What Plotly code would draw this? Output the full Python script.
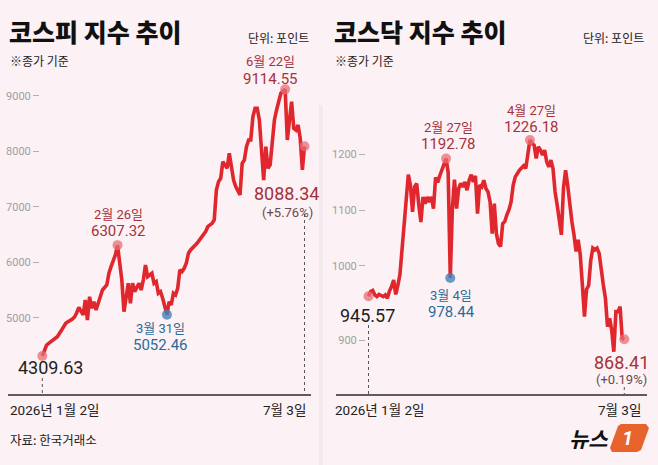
import plotly.graph_objects as go

W, H = 658, 465

# --- data (trading-day index, close) ---
kospi_day = [0, 2, 4, 7, 9, 11, 14, 15, 16, 17, 19, 20, 21, 22, 23, 24, 25, 27, 28, 30,
             31, 32, 34, 35, 37, 38, 40, 41, 42, 43, 45, 46, 47, 48, 49, 51, 52, 53, 54, 55,
             56, 58, 59, 60, 61, 62, 63, 64, 65, 66, 67, 68, 69, 72, 74, 76, 77, 79, 80, 81,
             82, 83, 84, 86, 87, 88, 89, 90, 92, 93, 94, 95, 96, 97, 98, 99, 100, 101, 102, 103,
             104, 105, 106, 107, 108, 109, 110, 111, 113, 114, 115, 116, 117, 118, 119, 120, 121, 122]
kospi = [4309.63, 4508, 4568, 4658, 4778, 4904, 4977, 5013, 5090, 5187, 5049, 5319, 4959, 5378,
         5169, 5288, 5139, 5409, 5499, 5589, 5800, 5919, 6130, 6307.32, 5679, 5108, 5620, 5259,
         5620, 5469, 5620, 5499, 5679, 5950, 5739, 5800, 5620, 5649, 5440, 5469, 5350, 5052.46,
         5288, 5229, 5440, 5409, 5530, 5860, 5829, 5890, 5980, 6160, 6220, 6341, 6460, 6550,
         6640, 6701, 6761, 7301, 7451, 7512, 7811, 7692, 7962, 7662, 7481, 7361, 7211, 7782,
         7842, 8081, 8202, 8202, 8622, 8773, 8773, 8563, 8081, 7481, 8081, 7692, 7752, 8202,
         8563, 8743, 8923, 9043, 9114.55, 8202, 8563, 8892, 8413, 8382, 8473, 8233, 7662, 8088.34]

kosdaq = [945.57, 954, 956, 948, 945, 949, 947, 945, 948, 942, 955, 963, 975, 949, 965, 985,
          1030, 1075, 1125, 1164, 1145, 1097, 1142, 1148, 1109, 1079, 1124, 1112, 1124, 1115,
          1124, 1103, 1159, 1150, 1162, 1174, 1186, 1192.78, 1168, 978.44, 1103, 1155, 1103,
          1139, 1148, 1142, 1151, 1136, 1154, 1164, 1151, 1162, 1094, 1145, 1142, 1154, 1139,
          1133, 1115, 1058, 1112, 1058, 1040, 1035, 1076, 1080, 1092, 1101, 1115, 1145, 1160,
          1167, 1172, 1176, 1180, 1175, 1199, 1226.18, 1220, 1217, 1193, 1214, 1208, 1199,
          1208, 1187, 1178, 1190, 1175, 1133, 1109, 1086, 1056, 1140, 1172, 1145, 1109, 1080,
          1056, 1026, 1047, 1020, 966, 909, 958, 965, 1010, 1032, 1029, 1032, 1023, 990, 966,
          942, 891, 906, 885, 846, 918, 918, 927, 870, 868.41]
kosdaq_day = list(range(len(kosdaq)))

kospi_ticks = [5000, 6000, 7000, 8000, 9000]
# the source draws its "900" label lower than the 900 level; keep it where it sits
kosdaq_tickvals = [867, 1000, 1100, 1200]
kosdaq_ticktext = ["900", "1000", "1100", "1200"]

# highlighted points: (day, value, date label, value label, kind)
kospi_marks = [(35, 6307.32, "2월 26일", "6307.32", "hi"),
               (58, 5052.46, "3월 31일", "5052.46", "lo"),
               (113, 9114.55, "6월 22일", "9114.55", "hi")]
kosdaq_marks = [(37, 1192.78, "2월 27일", "1192.78", "hi"),
                (39, 978.44, "3월 4일", "978.44", "lo"),
                (77, 1226.18, "4월 27일", "1226.18", "hi")]

BG = "#fcf1f4"
LINE = "#e0272e"
RED_TXT = "#a5323b"
BLUE_TXT = "#2b6c97"
HI_DOT = "rgba(232,110,118,0.75)"
LO_DOT = "rgba(70,130,185,0.8)"
FONT = "Roboto, 'Noto Sans CJK KR', sans-serif"
KFONT = "'Noto Sans CJK KR', sans-serif"


def px(x):
    return x / W


def py(y):
    return 1 - y / H


fig = go.Figure()

panels = [
    dict(n="", day=kospi_day, val=kospi, marks=kospi_marks),
    dict(n="2", day=kosdaq_day, val=kosdaq, marks=kosdaq_marks),
]

for p in panels:
    xa, ya = "x" + p["n"], "y" + p["n"]
    fig.add_trace(go.Scatter(x=p["day"], y=p["val"], mode="lines", xaxis=xa, yaxis=ya,
                             line=dict(color=LINE, width=3.6), hoverinfo="skip"))
    # start / end dots
    fig.add_trace(go.Scatter(x=[p["day"][0], p["day"][-1]], y=[p["val"][0], p["val"][-1]],
                             mode="markers", xaxis=xa, yaxis=ya, cliponaxis=False,
                             marker=dict(size=10, color=HI_DOT)))
    for d, v, _, _, kind in p["marks"]:
        fig.add_trace(go.Scatter(x=[d], y=[v], mode="markers", xaxis=xa, yaxis=ya,
                                 cliponaxis=False,
                                 marker=dict(size=10, color=HI_DOT if kind == "hi" else LO_DOT)))

ydom = [py(395), py(80)]
axis_common = dict(showgrid=False, zeroline=False, showline=False)
fig.update_layout(
    width=W, height=H, margin=dict(l=0, r=0, t=0, b=0),
    paper_bgcolor=BG, plot_bgcolor=BG, showlegend=False,
    font=dict(family=FONT, color="#222"),
    xaxis=dict(domain=[px(40), px(307)], range=[-1.07, 123.16], showticklabels=False,
               **axis_common),
    yaxis=dict(domain=ydom, range=[3607, 9283], tickvals=kospi_ticks,
               ticks="outside", ticklen=6, tickcolor="#b0b0b0", tickwidth=1,
               tickfont=dict(size=11, color="#a0a0a0"), **axis_common),
    xaxis2=dict(domain=[px(366), px(627)], range=[-1.19, 123.29], showticklabels=False,
                anchor="y2", **axis_common),
    yaxis2=dict(domain=ydom, range=[768.4, 1333.9], tickvals=kosdaq_tickvals,
                ticktext=kosdaq_ticktext, anchor="x2",
                ticks="outside", ticklen=6, tickcolor="#b0b0b0", tickwidth=1,
                tickfont=dict(size=11, color="#a0a0a0"), **axis_common),
)

ann = []


def label(x, y, text, size, color, anchor="center", family=FONT, weight=None):
    f = dict(size=size, color=color, family=family)
    if weight:
        f["weight"] = weight
    ann.append(dict(x=px(x), y=py(y), xref="paper", yref="paper", text=text,
                    showarrow=False, xanchor=anchor, yanchor="middle", font=f))


# headers
for x0, x1, title in [(8, 311, "코스피 지수 추이"), (333, 646, "코스닥 지수 추이")]:
    label(x0 - 1, 31, title, 25, "#111", "left", KFONT, 900)
    label(x1, 37, "단위: 포인트", 12, "#222", "right", KFONT)
    label(x0, 60, "※종가 기준", 12, "#222", "left", KFONT)
    label(x0, 410, "2026년 1월 2일", 13.5, "#222", "left")
    label(x1 - 3, 410, "7월 3일", 13.5, "#222", "right")

label(8, 439, "자료: 한국거래소", 12.5, "#222", "left", KFONT)

# highlighted point labels (pixel centres of the two lines)
spots = [((118, 214), kospi_marks[0]), ((160, 328), kospi_marks[1]), ((270, 62), kospi_marks[2]),
         ((448, 127), kosdaq_marks[0]), ((451, 295), kosdaq_marks[1]), ((531, 110), kosdaq_marks[2])]
for (cx, cy), (_, _, dlab, vlab, kind) in spots:
    col = RED_TXT if kind == "hi" else BLUE_TXT
    label(cx, cy, dlab, 13, col)
    label(cx, cy + 17, vlab, 15, col)

label(50, 367, f"{kospi[0]:.2f}", 18, "#1e1e1e")
label(286, 193, f"{kospi[-1]:.2f}", 18, RED_TXT)
label(287, 212, "(+5.76%)", 13, "#6b4a4e")
label(367, 315, f"{kosdaq[0]:.2f}", 18, "#1e1e1e")
label(621, 362, f"{kosdaq[-1]:.2f}", 18, RED_TXT)
label(621, 379, "(+0.19%)", 13, "#6b4a4e")

# logo
label(588, 438, "<b><i>뉴스</i></b>", 21, "#111", "center", KFONT)
label(627, 438, "<b><i>1</i></b>", 20, "#ffffff", "center", FONT)

fig.update_layout(annotations=ann)

shapes = []
# baselines
for a, b in [(8, 311), (336, 647)]:
    shapes.append(dict(type="line", xref="paper", yref="paper", x0=px(a), x1=px(b),
                       y0=py(395), y1=py(395), line=dict(color="#2a2a2a", width=1.5)))
# dotted guides from end-point labels down to the baseline
for xr, d, top in [("x", kospi_day[0], 378), ("x", kospi_day[-1], 214),
                   ("x2", kosdaq_day[0], 325), ("x2", kosdaq_day[-1], 387)]:
    shapes.append(dict(type="line", xref=xr, yref="paper", x0=d, x1=d,
                       y0=py(top), y1=py(394), line=dict(color="#555", width=1, dash="dot")))
# faint panel divider
shapes.append(dict(type="line", xref="paper", yref="paper", x0=px(321), x1=px(321),
                   y0=py(105), y1=0, line=dict(color="rgba(0,0,0,0.03)", width=4)))
# orange logo block
pts = [(621, 424), (646, 424), (649, 428), (641, 450), (637, 452), (612, 452), (610, 448), (618, 426)]
path = "M " + " L ".join(f"{px(a):.4f},{py(b):.4f}" for a, b in pts) + " Z"
shapes.append(dict(type="path", xref="paper", yref="paper", path=path,
                   fillcolor="#e8622b", line=dict(width=0), layer="below"))
fig.update_layout(shapes=shapes)

# drop the browser's default body margin so the 658x465 figure fills the window
fig.write_html("out.html", config={"displayModeBar": False},
               post_script="document.body.style.margin='0';")
